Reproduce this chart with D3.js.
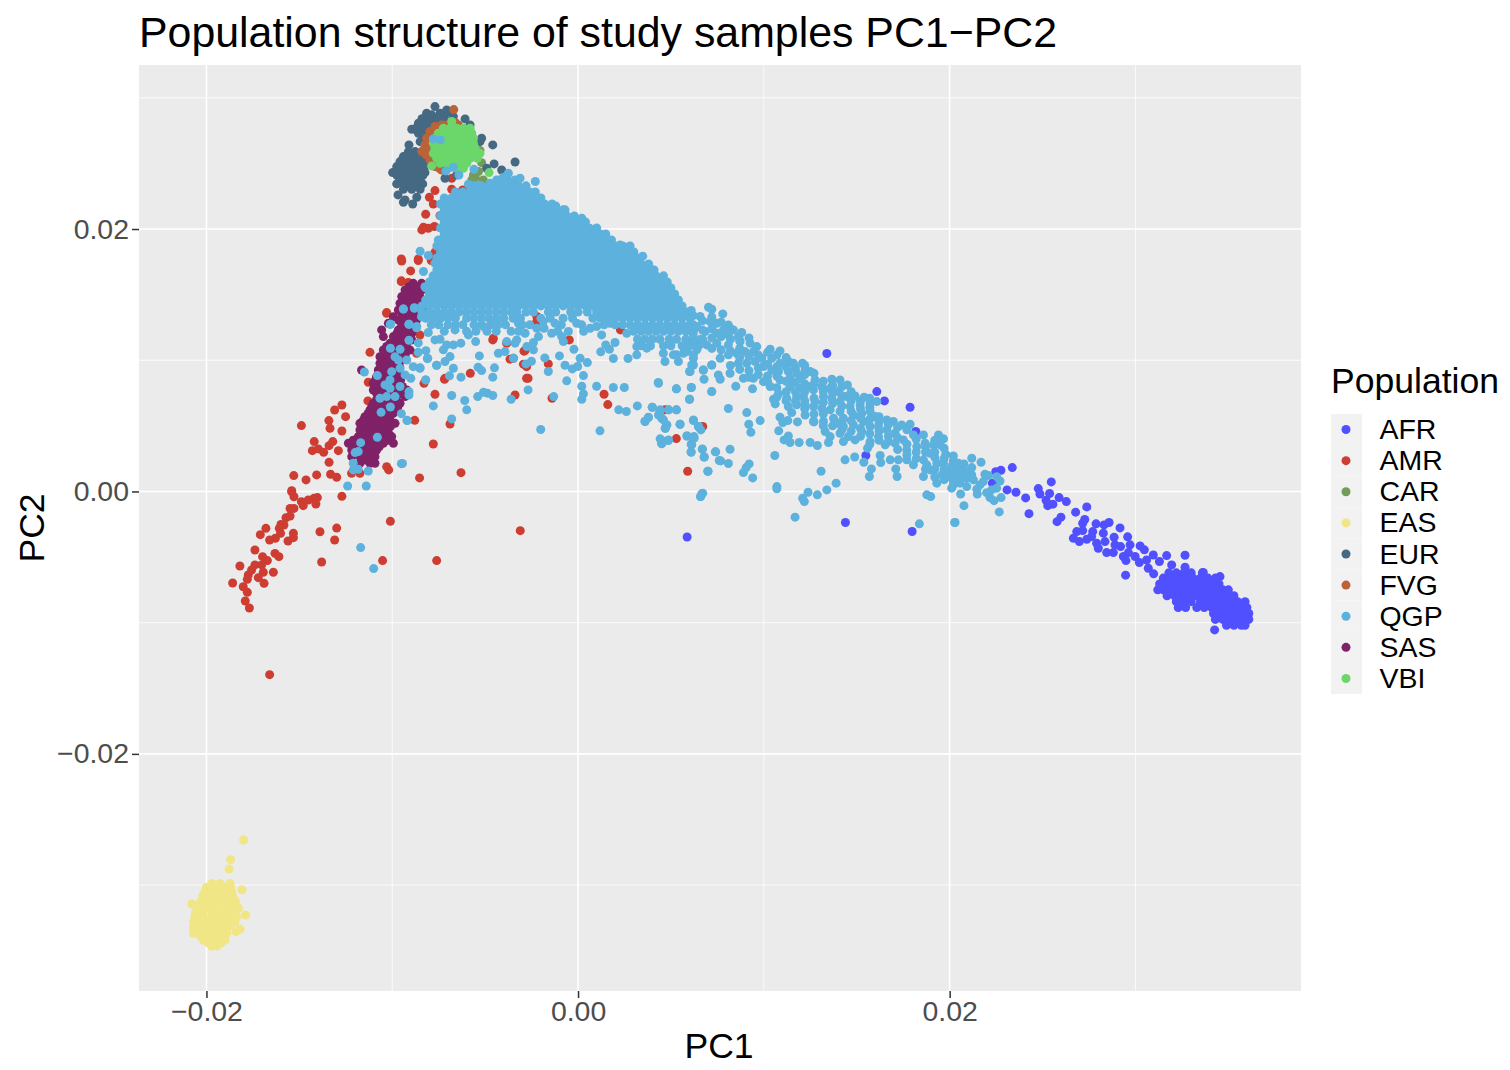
<!DOCTYPE html>
<html lang="en">
	<head>
		<meta charset="utf-8">
		<title>Population structure of study samples PC1-PC2</title>
		<script type="text/javascript" src="https://cdn.jsdelivr.net/npm/d3@7"></script>
		<style type="text/css">
			body { margin: 0; background: white; }
			text { font-family: "Liberation Sans", Arial, sans-serif; }
			.axis path { display: none; }
			.axis line { stroke: #333333; stroke-width: 1.5; }
			.axis text { font-size: 28.44px; fill: #4D4D4D; }
		</style>
	</head>
	<body>
		<script type="text/javascript">

			// all PC values below are in thousandths.
			// inside the solid clouds single samples can't be told apart, so
			// those points are placed by eye to cover the outline of the cloud.
			var populations = ["AFR", "AMR", "CAR", "EAS", "EUR", "FVG", "QGP", "SAS", "VBI"];
			var colours = ["#5050FF", "#CE3D32", "#749B58", "#F0E685", "#466983", "#BA6338", "#5DB1DD", "#802268", "#6BD76B"];
			var drawOrder = ["AFR", "AMR", "CAR", "EAS", "EUR", "FVG", "SAS", "VBI", "QGP"];

			var xTicks = [-20, 0, 20];
			var xTickLabels = ["\u22120.02", "0.00", "0.02"];
			var xMinor = [-10, 10, 30];
			var yTicks = [-20, 0, 20];
			var yTickLabels = ["\u22120.02", "0.00", "0.02"];
			var yMinor = [-30, -10, 10, 30];

			// single points, [PC1, PC2]
			var afrPoints = [[13.39,10.51],[16.08,7.61],[16.49,6.9],[17.87,6.42],[18.18,4.57],[15.49,2.74],[14.39,-2.37],[17.98,-3.05],[5.87,-3.47],
				[23.37,1.82],[22.76,1.62],[22.48,1.51],[22.3,0.63],[23.09,0.12],[23.57,-0.06],[24.09,-0.49],[24.27,-1.69],[24.77,0.22],[24.86,-0.19],[25.47,0.73],[25.38,-0.16],[25.19,-0.67],[25.28,-1.08],[25.56,-0.97],[25.89,-0.47],[26.28,-0.77],[25.99,-1.96],[25.78,-2.3],[26.78,-1.58],[27.38,-1.18],[27.27,-2.14],[27.16,-2.42],[27.88,-2.47],[28.31,-2.55],[28.58,-2.37],[29.17,-2.78],[26.84,-3.06],[27.16,-2.98],[26.66,-3.57],[26.98,-3.82],[27.38,-3.64],[27.7,-3.06],[27.64,-3.44],[28.27,-3.18],[27.91,-3.95],[28.0,-4.33],[28.45,-4.66],[28.36,-3.82],[28.85,-3.49],[28.9,-4.07],[28.81,-4.66],[29.2,-4.2],[29.58,-3.46],[29.71,-4.07],[29.35,-4.96],[29.49,-5.27],[29.62,-4.66],[30.25,-4.15],[30.48,-4.45],[29.98,-4.96],[30.21,-5.42],[30.6,-5.22],[30.96,-4.84],[30.69,-5.85],[30.98,-6.28],[31.29,-5.34],[31.68,-4.89],[31.95,-5.6],[32.67,-4.86],[32.67,-5.77],[29.47,-6.38],[34.26,-10.55],[34.55,-6.49],[33.65,-6.18]];
			var amrPoints = [[-15.41,-0.02],[-15.29,-0.4],[-14.03,-0.47],[-14.21,-0.52],[-14.52,-0.65],[-14.89,-0.78],[-14.79,-1.08],[-14.11,-0.96],[-12.71,-0.37],[-15.5,-1.29],[-15.29,-1.29],[-15.72,-2.0],[-15.5,-1.87],[-15.99,-2.51],[-15.83,-2.56],[-16.08,-2.81],[-16.8,-2.81],[-16.01,-3.19],[-17.1,-3.29],[-15.32,-3.19],[-15.32,-3.52],[-15.61,-3.78],[-16.29,-3.57],[-16.6,-3.7],[-13.89,-3.07],[-12.99,-2.79],[-13.1,-3.7],[-10.1,-2.28],[-3.11,-2.99],[-17.39,-4.46],[-16.31,-4.72],[-16.1,-4.97],[-16.98,-4.97],[-16.72,-5.27],[-18.2,-5.68],[-17.39,-5.6],[-17.03,-5.6],[-13.8,-5.38],[-10.52,-5.27],[-7.61,-5.27],[-16.4,-6.16],[-16.94,-6.16],[-17.57,-5.99],[-17.75,-6.37],[-17.21,-6.57],[-17.8,-6.7],[-16.9,-7.0],[-18.59,-6.98],[-18.02,-7.26],[-17.8,-7.69],[-17.91,-8.35],[-17.69,-8.88],[-16.6,-13.96],
				[-12.71,6.59],[-13.1,6.21],[-12.51,5.7],[-14.89,5.02],[-13.41,5.4],[-13.35,4.81],[-12.71,4.61],[-14.2,3.8],[-13.2,3.8],[-13.4,3.49],[-14.3,3.11],[-13.98,3.24],[-13.69,2.98],[-12.9,3.11],[-13.4,2.22],[-15.3,1.21],[-14.07,1.26],[-14.64,0.88],[-13.32,1.31],[-12.99,1.08],[-15.41,0.06],[-11.2,10.6],[-10.3,13.63],[-9.51,15.99],[-9.13,15.91],[-9.49,17.56],[-8.6,17.6],[-11.29,8.32],[-11.31,6.9],[-8.79,5.42],[-6.89,5.14],[-7.79,3.62],[-10.3,1.89],[-10.19,1.64],[-8.53,1.03],[-6.3,1.43],[-12.19,1.38],[-11.74,1.38],[-7.7,7.4],[-8.29,8.24],[-7.16,8.62],[-5.8,9.0],[-3.48,10.15],[-3.39,7.35],[-2.77,8.62],[-2.77,9.51],[-2.86,10.73],[-4.56,11.67],[-3.84,11.29],[-8.15,13.7],[-7.61,15.23],[-8.69,10.53],[-8.51,11.92],[-9.5,12.56],
				[-2.69,8.63],[-2.94,9.7],[-3.66,10.08],[-2.91,10.69],[-1.6,9.72],[-1.4,7.1],[1.4,7.41],[1.6,6.62],[2.28,12.31],[-0.47,11.55],[-2.22,13.33],[-2.22,12.95],[-4.59,11.55],[5.29,4.03],[5.9,1.54],[6.71,4.95],[4.68,6.22],[-7.19,8.55],
				[-7.7,22.93],[-6.8,23.03],[-6.21,22.98],[-8.0,22.42],[-7.79,21.91],[-7.25,21.91],[-8.2,21.13],[-7.43,21.02],[-8.32,20.14],[-7.73,20.19],[-8.06,20.06],[-8.41,19.93],[-9.51,17.72],[-8.6,17.72],[-9.01,16.81],[-9.51,16.05],[-9.13,15.92],[-10.3,13.58],[-6.8,23.87],[-7.7,18.23],[-7.4,15.5],[-7.9,17.6],[-6.4,17.2],[-6.9,15.3]];
			var carPoints = [[-5.63,24.12],[-5.36,24.38],[-5.1,23.74],[-5.45,23.74],[-5.72,23.74],[-5.36,23.36],[-5.19,25.06],[-5.28,25.98],[-5.54,24.38]];
			var easPoints = [[-18.0,-26.56],[-18.7,-28.06],[-18.78,-28.77],[-18.09,-30.35],[-20.79,-31.44],[-17.89,-32.28],[-18.19,-33.35],[-18.41,-33.55]];
			var eurPoints = [[-7.7,29.33],[-8.15,28.82],[-7.88,28.7],[-7.07,29.08],[-7.43,28.82],[-6.71,28.57],[-8.59,28.06],[-8.24,28.19],[-8.95,27.6],[-8.59,27.3],[-8.32,27.68],[-8.5,26.66],[-9.1,26.41],[-6.08,28.39],[-5.81,27.93],[-5.19,26.92],[-5.28,26.66],[-4.59,26.41],[-3.39,25.11],[-4.11,24.5],[-4.52,24.96],[-4.92,24.63],[-7.16,23.87],[-6.53,24.12],
				[-9.69,22.6],[-9.31,22.22],[-9.4,22.04],[-8.9,21.91],[-8.68,22.42],
				[-8.4,28.4],[-8.0,28.3],[-7.6,28.4],[-7.2,28.5],[-6.9,28.9],[-8.7,27.7],[-8.4,27.2],[-8.3,26.9],[-8.2,27.9],[-7.9,28.0]];
			var fvgPoints = [[-6.69,29.1],[-7.97,27.43],[-7.7,27.81],[-7.34,27.93],[-6.89,28.06],[-6.44,27.93],[-8.15,26.92],[-8.24,26.41],[-8.41,25.9],[-8.18,25.65],[-8.06,26.03],[-7.97,25.27],[-7.7,24.76],[-7.34,24.5],[-7.79,26.79],
				[-8.0,26.6],[-8.05,26.3],[-8.0,25.7],[-7.85,25.0],[-7.5,27.6],[-7.15,27.9],[-6.6,28.1],[-7.85,27.1],[-7.45,24.6]];
			var qgpPoints = [[-11.7,-4.28],[-11.0,-5.88],
				// lower left, over the SAS band
				[-9.4,13.9],[-8.81,14.0],[-10.1,12.74],[-9.1,12.74],[-8.42,13.32],[-8.69,12.48],[-9.1,11.52],[-8.6,11.32],[-10.1,10.91],[-9.58,10.83],[-8.6,10.6],[-8.19,10.73],[-8.11,10.12],[-11.5,9.1],[-10.8,8.83],[-9.85,10.27],[-9.67,10.02],[-9.22,10.02],[-8.87,9.51],[-8.51,9.39],[-10.03,9.13],[-9.58,9.38],[-9.31,8.88],[-9.0,8.62],[-10.12,8.5],[-10.39,8.12],[-9.58,8.0],[-10.12,7.86],[-9.1,7.61],[-9.1,7.35],[-10.66,7.1],[-10.3,7.23],[-9.85,7.23],[-10.1,6.44],[-10.6,6.03],[-9.51,5.93],[-9.21,5.42],[-8.2,8.5],[-7.61,9.61],[-10.8,4.13],[-11.7,3.72],[-11.83,3.04],[-12.0,2.96],[-12.1,2.15],[-12.1,1.64],[-11.83,1.69],[-11.29,1.56],[-9.51,2.12],[-12.4,0.42],[-11.4,0.42],
				// below the main cloud
				[-5.31,10.33],[-6.71,9.39],[-7.61,9.62],[-8.09,10.15],[-8.5,9.42],[-6.92,8.81],[-6.3,8.71],[-5.38,9.47],[-5.19,9.21],[-4.5,9.42],[-4.59,8.71],[-8.2,8.5],[-6.8,7.31],[-7.79,6.52],[-6.1,6.93],[-5.99,6.22],[-6.8,5.53],[-5.4,7.23],[-5.09,7.56],[-4.88,7.49],[-4.59,7.31],[-3.6,7.03],[-2.69,7.74],[-1.31,7.23],[-2.01,4.72],[1.18,4.62],[-9.45,2.13],[-9.19,5.4],[-3.48,10.15],[-2.8,9.72],[-2.51,9.92],[-1.79,10.18],[-1.6,9.14],[-1.0,10.33],[-0.7,9.62],[-0.31,9.34],[-0.02,9.52],[-0.61,8.43],[0.29,8.83],[0.2,8.02],[0.29,7.44],[0.2,7.03],[0.11,10.15],[0.5,9.82],[-0.22,10.84],[1.0,8.02],[1.9,7.92],[2.49,7.92],[1.9,10.13],[2.69,10.13],[1.22,10.64],[1.69,10.84],[1.49,11.17],[1.99,11.35],[1.27,11.93],[2.19,6.22],[2.6,6.09],[3.19,6.52],[4.0,6.42],[3.79,5.66],[3.6,5.35],[4.32,8.3],[5.29,7.82],[6.1,7.92],[6.0,7.03],[7.19,7.61],[4.41,6.09],[4.88,6.22],[5.29,6.22],[4.5,5.58],[4.77,5.07],[4.7,4.82],[5.49,5.12],[6.21,5.45],[6.48,4.95],[4.5,3.88],[4.5,3.63],[4.86,3.88],[5.88,4.23],[6.24,4.18],[6.12,3.55],[6.08,3.02],[6.69,3.24],[6.78,2.63],[7.39,3.02],[7.6,2.36],[6.98,1.54],[6.6,-0.39],[6.71,-0.13],[6.0,9.14],[6.21,9.64],[6.78,8.55],[6.74,9.26],[7.19,9.64],[7.55,8.88],
				// scalloped lower edge of the main cloud
				[-8.06,12.11],[-7.7,11.55],[-7.43,11.6],[-7.07,11.17],[-7.25,10.79],[-6.89,10.28],[-7.16,9.9],[-6.71,11.17],[-6.31,11.3],[-6.62,12.31],[-5.51,11.42],[-5.9,11.93],[-5.09,12.57],[-4.29,10.53],[-3.93,10.66],[-3.84,11.42],[-3.3,11.55],[-3.39,11.3],[-2.76,11.04],[-2.4,10.79],[-2.4,11.35],[-2.13,11.8],[-2.85,12.06],[-3.21,12.82],[-2.22,12.44],[-1.83,12.44],[-1.87,12.95],[-1.24,12.82],[-1.42,12.06],[-0.88,11.8],[-0.79,11.42],[-0.52,12.19],[-0.07,12.82],[0.65,12.44],[1.0,12.57],[1.72,12.82],[2.62,12.06],[3.16,11.04],[3.16,10.41],[3.7,10.92],[4.59,10.53],[4.68,9.9],[5.13,10.41],[5.4,9.9],[5.67,10.53],[6.21,10.41],
				// band running down to the AFR cluster
				[7.02,14.04],[7.2,13.89],[6.09,13.79],[6.57,13.33],[6.03,13.2],[7.79,13.53],[7.11,12.95],[7.47,12.82],[8.09,12.69],[7.83,12.31],[8.36,12.31],[8.81,12.11],[6.39,12.57],[6.84,12.19],[7.47,12.06],[8.09,11.93],[8.63,11.8],[9.26,11.3],[9.62,11.04],[8.72,11.42],[8.09,11.17],[7.47,11.3],[6.93,11.17],[6.39,10.79],[5.85,10.66],[5.31,10.41],[6.21,10.15],[6.12,9.64],[6.03,9.14],[6.75,9.26],[7.2,9.64],[7.65,10.15],[8.09,10.41],[8.54,10.53],[8.99,10.66],[9.44,10.66],[9.89,10.15],[10.34,10.84],[10.87,10.71],[10.43,10.15],[10.87,9.77],[11.32,9.9],[11.59,9.77],[12.08,9.77],[12.49,9.14],[12.22,9.26],[11.77,9.01],[11.32,9.14],[10.79,9.14],[10.43,9.26],[9.98,9.52],[9.53,9.9],[9.08,9.77],[8.63,9.77],[8.18,9.01],[7.65,8.55],[8.9,8.63],[9.44,8.63],[9.98,8.37],[10.34,8.0],[10.87,8.5],[11.41,8.63],[11.95,8.63],[12.76,8.5],[12.49,8.0],[11.95,7.87],[11.41,8.0],[13.66,8.55],[14.1,8.5],[14.5,8.12],[14.01,7.61],[13.57,7.87],[13.12,8.0],[12.67,7.74],[12.13,7.23],[11.77,7.23],[11.23,7.1],[10.79,7.44],[10.52,7.03],[10.61,6.67],[11.32,6.47],[11.77,6.6],[12.22,6.6],[12.76,6.85],[13.21,7.23],[13.66,7.1],[14.1,6.85],[14.46,7.23],[14.91,7.28],[15.4,7.18],[16.08,6.85],[15.72,6.72],[15.18,6.6],[14.64,6.47],[14.1,6.09],[13.57,6.22],[13.12,6.34],[12.67,6.47],[12.22,5.83],[11.5,6.01],[12.67,5.33],[13.21,5.33],[13.75,5.58],[14.28,5.58],[14.82,5.83],[15.27,5.96],[15.72,6.09],[15.99,5.71],[15.36,5.33],[14.82,5.07],[14.28,4.95],[13.92,5.2],[13.3,4.56],[13.57,4.18],[14.1,4.44],[14.55,4.18],[14.91,3.93],[14.28,3.8],[15.27,4.56],[15.72,4.95],[16.17,4.95],[16.62,5.45],[16.97,5.33],[17.42,5.07],[17.87,5.12],[16.62,4.69],[17.06,4.44],[16.17,4.18],[15.72,3.8],[16.53,3.55],[17.06,3.68],[17.51,3.93],[18.05,4.31],[18.59,4.31],[19.4,4.31],[19.67,4.01],[19.13,3.55],[19.49,3.55],[18.68,3.68],[18.23,3.42],[17.69,3.17],[17.24,2.41],[17.69,2.41],[18.05,2.03],[18.59,2.41],[18.95,2.91],[19.79,2.84],[19.31,2.15],[18.95,1.64],[18.59,1.14],[19.31,0.63],[20.11,0.25],[20.38,0.88],[20.02,1.64],[19.67,2.15],[20.2,2.28],[20.56,1.9],[20.56,0.63],[19.93,1.14],[19.58,1.26],[18.77,2.03],
				// scattered below the band
				[4.33,8.25],[5.3,7.82],[6.09,7.92],[7.2,7.61],[6.0,7.03],[8.49,8.02],[9.39,7.82],[8.09,6.32],[9.08,6.01],[9.8,5.4],[9.19,5.12],[9.3,4.51],[10.87,5.66],[11.02,5.25],[11.29,5.4],[11.81,5.3],[10.8,4.62],[11.32,4.23],[11.09,3.93],[11.41,3.73],[11.9,3.73],[12.49,3.73],[12.88,3.5],[13.48,3.73],[12.7,5.3],[15.58,3.3],[14.89,2.63],[14.37,2.41],[15.38,2.23],[16.29,2.2],[16.8,2.41],[16.26,2.74],[15.79,1.72],[15.68,1.14],[17.1,1.72],[17.17,1.14],[10.59,2.74],[13.08,1.54],[13.89,0.63],[13.39,0.12],[12.88,-0.26],[12.38,-0.06],[12.09,-0.52],[12.18,-0.77],[11.68,-1.96],[10.7,0.37],[10.7,0.2],[9.4,1.03],[9.21,2.1],[9.05,1.82],[8.9,1.44],[8.09,2.13],[8.18,3.22],[7.68,2.33],[7.41,3.02],[6.8,2.63],[6.69,3.22],[6.09,3.6],[6.09,2.99],[7.0,1.54],[6.66,-0.18],[6.59,-0.39],[18.77,-0.26],[18.98,-0.39],[18.37,-2.47],[20.29,-2.37],[3.99,6.42],[4.42,6.22],[4.87,6.22],[5.3,6.22],[5.49,5.12],[3.61,5.33],[3.79,5.63],[4.33,5.83],[4.6,5.45],[4.78,5.07],[4.69,4.82],[6.21,5.4],[6.48,4.95],[6.61,4.69],[5.85,4.23],[6.25,4.06],[4.42,4.01],[4.87,3.93],[4.51,3.68],
				// tail where QGP meets AFR
				[21.19,2.53],[21.69,2.23],[20.2,2.28],[20.47,2.15],[20.77,2.1],[21.19,1.82],[20.2,1.52],[20.56,1.52],[20.92,1.52],[21.19,1.26],[20.2,1.01],[20.56,0.88],[20.92,1.01],[21.28,0.88],[21.9,1.31],[22.08,1.21],[22.53,1.13],[22.71,0.8],[21.81,0.75],[21.63,0.5],[22.53,0.25],[20.2,0.5],[20.92,0.37],[21.46,0.17],[20.59,-0.19],[21.49,-0.19],[22.26,0.12],[21.99,-0.09],[22.17,-0.47],[22.39,-0.7],[22.77,-0.47],[20.77,-1.08],[22.67,-1.56],[20.27,-2.37],[20.38,1.39],[20.74,1.26],[20.11,1.9],
				// around the top of the main cloud
				[-7.79,26.87],[-7.41,26.79],[-7.11,24.43],[-6.71,24.71],[-6.41,24.12],[-5.6,24.55],[-5.9,23.41],[-5.36,23.36],[-3.75,24.25],[-3.12,23.87],[-2.3,23.62],[-4.74,23.49],[-4.38,23.74],[-4.02,23.95],[-7.1,22.22],[1.49,19.63],[3.48,17.93],[4.09,16.88],[-8.5,18.31],[-8.06,17.98],[-7.52,19.17],[-0.7,21.46],[-1.2,21.76],[0.2,20.82],[2.26,18.79],[2.65,18.61],[1.81,18.79],
				[-8.32,16.76],[-7.7,17.39],[-7.43,16.63],[-8.24,15.61],[-7.61,15.87],[-7.97,14.6],[-8.41,13.33],[-8.68,12.57],[-9.1,12.74],[-10.1,12.74],[-9.4,13.91],[-8.81,13.96]];
			var vbiPoints = [[-6.8,28.19],[-7.88,24.81],[-4.79,24.3]];

			// dense clouds, one [PC2, [PC1, ...]] row at a time
			var afrRows = [
				[-6.2, [31.8,32.2,32.6,33.0,33.6]],
				[-6.6, [31.5,31.9,32.3,32.7,33.1,33.5,33.9,34.3]],
				[-7.05, [31.3,31.7,32.1,32.5,32.9,33.3,33.7,34.1,34.5]],
				[-7.5, [31.2,31.5,31.9,32.3,32.7,33.1,33.5,33.9,34.3,34.7,35.0]],
				[-7.95, [31.7,32.1,32.5,32.9,33.3,33.7,34.1,34.5,34.9,35.3]],
				[-8.4, [32.2,32.6,33.0,33.5,33.9,34.3,34.7,35.1,35.5,35.9]],
				[-8.85, [32.3,32.7,33.3,33.7,34.1,34.5,34.9,35.3,35.7,36.0]],
				[-9.3, [34.2,34.6,35.0,35.4,35.8,36.1]],
				[-9.75, [34.3,34.7,35.1,35.5,35.9,36.1]],
				[-10.2, [34.9,35.3,35.7,35.9]]
			];
			var easRows = [
				[-29.87, [-19.72,-19.27,-18.73]],
				[-30.18, [-20.0,-19.5,-19.0,-18.7]],
				[-30.5, [-20.08,-19.63,-19.18,-18.64]],
				[-30.82, [-20.2,-19.8,-19.4,-19.0,-18.6]],
				[-31.14, [-20.26,-19.81,-19.36,-18.91,-18.46]],
				[-31.45, [-20.4,-19.95,-19.6,-19.1,-18.7,-18.4]],
				[-31.77, [-20.44,-19.99,-19.54,-19.09,-18.64,-18.28]],
				[-32.1, [-20.6,-20.2,-19.7,-19.3,-18.9,-18.5]],
				[-32.41, [-20.62,-20.17,-19.72,-19.27,-18.82,-18.37]],
				[-32.79, [-20.7,-20.26,-19.81,-19.36,-18.91,-18.46]],
				[-33.05, [-20.5,-20.0,-19.6,-19.1,-18.7]],
				[-33.3, [-20.7,-20.26,-19.81,-19.36,-18.91]],
				[-33.5, [-20.5,-20.0,-19.5,-19.1]],
				[-33.68, [-20.7,-20.17,-19.72,-19.27,-18.91]],
				[-33.95, [-20.3,-19.9,-19.5,-19.1]],
				[-34.18, [-20.17,-19.81,-19.36,-19.0]],
				[-34.4, [-19.9,-19.55,-19.2]],
				[-34.64, [-19.72,-19.45]]
			];
			var eurRows = [
				[25.9, [-9.13,-8.77,-8.41]],
				[25.7, [-9.0,-8.6,-8.3]],
				[25.52, [-9.4,-9.04,-8.68,-8.32]],
				[25.33, [-9.3,-8.95,-8.6,-8.3]],
				[25.14, [-9.58,-9.22,-8.86,-8.5,-8.18]],
				[24.95, [-9.5,-9.15,-8.8,-8.45]],
				[24.76, [-9.76,-9.4,-9.04,-8.68,-8.32]],
				[24.53, [-9.65,-9.3,-8.95,-8.6,-8.3]],
				[24.3, [-9.98,-9.62,-9.22,-8.86,-8.5,-8.24]],
				[24.1, [-9.75,-9.4,-9.05,-8.7,-8.35]],
				[23.87, [-9.58,-9.22,-8.86,-8.5]],
				[23.65, [-9.6,-9.2,-8.85,-8.5]],
				[23.44, [-9.76,-9.4,-9.04,-8.68,-8.36]],
				[23.25, [-9.25,-8.85,-8.6]],
				[23.03, [-9.4,-8.95,-8.5]]
			];
			var sasRows = [
				[2.15, [-11.74,-11.2,-10.93]],
				[2.4, [-11.5,-11.1]],
				[2.65, [-12.18,-11.74,-11.38,-10.93]],
				[2.9, [-12.0,-11.55,-11.1]],
				[3.16, [-12.18,-11.83,-11.38,-10.84]],
				[3.4, [-12.1,-11.6,-11.2,-10.7]],
				[3.67, [-12.36,-11.92,-11.47,-11.02,-10.48,-9.94]],
				[3.9, [-12.1,-11.6,-11.2,-10.75,-10.25]],
				[4.18, [-11.83,-11.38,-10.93,-10.48,-10.03]],
				[4.45, [-11.6,-11.1,-10.65,-10.2]],
				[4.69, [-11.74,-11.29,-10.84,-10.39]],
				[4.95, [-11.5,-11.05,-10.6,-10.1]],
				[5.19, [-11.74,-11.29,-10.84,-10.39,-9.85]],
				[5.45, [-11.55,-11.1,-10.6,-10.15]],
				[5.7, [-11.47,-11.02,-10.57,-10.12]],
				[5.95, [-11.3,-10.85,-10.4,-9.95]],
				[6.21, [-11.2,-10.75,-10.3,-9.85]],
				[6.45, [-11.1,-10.6,-10.1,-9.7]],
				[6.72, [-11.02,-10.57,-10.12,-9.58]],
				[7.0, [-10.85,-10.35,-9.85]],
				[7.23, [-10.66,-10.21,-9.76,-9.31]],
				[7.5, [-10.85,-10.35,-9.9,-9.45]],
				[7.73, [-11.02,-10.57,-10.12,-9.67,-9.22]],
				[8.0, [-10.85,-10.35,-9.9,-9.45]],
				[8.24, [-11.02,-10.57,-10.12,-9.67]],
				[8.5, [-10.9,-10.45,-10.0,-9.55]],
				[8.75, [-10.84,-10.39,-9.94,-9.49]],
				[9.0, [-10.65,-10.15,-9.7]],
				[9.26, [-11.65,-10.75,-10.3,-9.85]],
				[9.5, [-10.5,-10.05,-9.6]],
				[9.77, [-10.66,-10.21,-9.76]],
				[10.0, [-10.45,-10.0,-9.55]],
				[10.27, [-10.66,-10.21,-9.76,-9.31]],
				[10.5, [-10.3,-9.8,-9.3]],
				[10.78, [-10.48,-10.03,-9.49,-9.05]],
				[11.05, [-10.3,-9.85,-9.35]],
				[11.29, [-10.12,-9.67,-9.22]],
				[11.55, [-9.8,-9.35,-8.95]],
				[11.8, [-10.48,-9.94,-9.49,-9.05]],
				[12.05, [-9.75,-9.35,-8.95]],
				[12.31, [-10.57,-9.67,-9.22,-8.87]],
				[12.55, [-9.5,-9.1]],
				[12.81, [-10.21,-9.4,-9.05]],
				[13.05, [-9.65,-9.15,-8.7]],
				[13.32, [-9.94,-9.4,-8.87,-8.51]],
				[13.6, [-9.5,-9.0,-8.6]],
				[13.83, [-9.67,-9.22,-8.78,-8.42]],
				[14.1, [-9.3,-8.8]],
				[14.34, [-9.58,-9.05,-8.51]],
				[14.6, [-9.3,-8.8]],
				[14.85, [-9.49,-9.05,-8.51]],
				[15.1, [-9.2,-8.7]],
				[15.35, [-9.31,-8.87,-8.42]],
				[15.6, [-9.1,-8.65,-8.3]],
				[15.86, [-8.87,-8.42]]
			];
			var vbiRows = [
				[27.68, [-7.25,-6.89,-6.53,-6.17,-5.81]],
				[27.3, [-7.52,-7.16,-6.8,-6.44,-6.08,-5.72]],
				[26.92, [-7.7,-7.34,-6.98,-6.62,-6.26,-5.9,-5.63]],
				[26.54, [-7.79,-7.43,-7.07,-6.71,-6.35,-5.99,-5.63]],
				[26.16, [-7.7,-7.34,-6.98,-6.62,-6.26,-5.9,-5.54]],
				[25.77, [-7.79,-7.43,-7.07,-6.71,-6.35,-5.99,-5.63,-5.28]],
				[25.39, [-7.61,-7.25,-6.89,-6.53,-6.17,-5.81,-5.42]],
				[25.01, [-7.43,-7.07,-6.71,-6.35,-5.99]],
				[24.63, [-6.98,-6.53,-6.17]]
			];
			var qgpRows = [
				[23.74, [-4.2,-3.8,-3.4]],
				[23.29, [-5.6,-5.2,-4.8,-4.4,-4.0,-3.6,-3.2,-2.8]],
				[22.83, [-6.6,-6.2,-5.8,-5.4,-5.0,-4.6,-4.2,-3.8,-3.4,-3.0,-2.6,-2.3]],
				[22.37, [-7.2,-6.8,-6.4,-6.0,-5.6,-5.2,-4.8,-4.4,-4.0,-3.6,-3.2,-2.8,-2.4,-2.0]],
				[21.91, [-7.4,-7.0,-6.6,-6.2,-5.8,-5.4,-5.0,-4.6,-4.2,-3.8,-3.4,-3.0,-2.6,-2.2,-1.8,-1.4]],
				[21.46, [-7.2,-6.8,-6.4,-6.0,-5.6,-5.2,-4.8,-4.4,-4.0,-3.6,-3.2,-2.8,-2.4,-2.0,-1.6,-1.2,-0.8]],
				[21.0, [-7.4,-7.0,-6.6,-6.2,-5.8,-5.4,-5.0,-4.6,-4.2,-3.8,-3.4,-3.0,-2.6,-2.2,-1.8,-1.4,-1.0,-0.6,-0.2]],
				[20.54, [-7.2,-6.8,-6.4,-6.0,-5.6,-5.2,-4.8,-4.4,-4.0,-3.6,-3.2,-2.8,-2.4,-2.0,-1.6,-1.2,-0.8,-0.4,0,0.4]],
				[20.08, [-7.4,-7.0,-6.6,-6.2,-5.8,-5.4,-5.0,-4.6,-4.2,-3.8,-3.4,-3.0,-2.6,-2.2,-1.8,-1.4,-1.0,-0.6,-0.2,0.2,0.6,1.0]],
				[19.63, [-7.2,-6.8,-6.4,-6.0,-5.6,-5.2,-4.8,-4.4,-4.0,-3.6,-3.2,-2.8,-2.4,-2.0,-1.6,-1.2,-0.8,-0.4,0,0.4,0.8,1.2]],
				[19.17, [-7.4,-7.0,-6.6,-6.2,-5.8,-5.4,-5.0,-4.6,-4.2,-3.8,-3.4,-3.0,-2.6,-2.2,-1.8,-1.4,-1.0,-0.6,-0.2,0.2,0.6,1.0,1.4,1.8]],
				[18.71, [-7.6,-7.2,-6.8,-6.4,-6.0,-5.6,-5.2,-4.8,-4.4,-4.0,-3.6,-3.2,-2.8,-2.4,-2.0,-1.6,-1.2,-0.8,-0.4,0,0.4,0.8,1.2,1.6,2.0,2.4,2.8]],
				[18.25, [-7.4,-7.0,-6.6,-6.2,-5.8,-5.4,-5.0,-4.6,-4.2,-3.8,-3.4,-3.0,-2.6,-2.2,-1.8,-1.4,-1.0,-0.6,-0.2,0.2,0.6,1.0,1.4,1.8,2.2,2.6,3.0]],
				[17.8, [-7.6,-7.2,-6.8,-6.4,-6.0,-5.6,-5.2,-4.8,-4.4,-4.0,-3.6,-3.2,-2.8,-2.4,-2.0,-1.6,-1.2,-0.8,-0.4,0,0.4,0.8,1.2,1.6,2.0,2.4,2.8,3.2]],
				[17.34, [-7.4,-7.0,-6.6,-6.2,-5.8,-5.4,-5.0,-4.6,-4.2,-3.8,-3.4,-3.0,-2.6,-2.2,-1.8,-1.4,-1.0,-0.6,-0.2,0.2,0.6,1.0,1.4,1.8,2.2,2.6,3.0,3.4,3.8]],
				[16.88, [-7.6,-7.2,-6.8,-6.4,-6.0,-5.6,-5.2,-4.8,-4.4,-4.0,-3.6,-3.2,-2.8,-2.4,-2.0,-1.6,-1.2,-0.8,-0.4,0,0.4,0.8,1.2,1.6,2.0,2.4,2.8,3.2,3.6,4.0]],
				[16.43, [-7.8,-7.4,-7.0,-6.6,-6.2,-5.8,-5.4,-5.0,-4.6,-4.2,-3.8,-3.4,-3.0,-2.6,-2.2,-1.8,-1.4,-1.0,-0.6,-0.2,0.2,0.6,1.0,1.4,1.8,2.2,2.6,3.0,3.4,3.8,4.2,4.6]],
				[15.97, [-8.0,-7.6,-7.2,-6.8,-6.4,-6.0,-5.6,-5.2,-4.8,-4.4,-4.0,-3.6,-3.2,-2.8,-2.4,-2.0,-1.6,-1.2,-0.8,-0.4,0,0.4,0.8,1.2,1.6,2.0,2.4,2.8,3.2,3.6,4.0,4.4,4.8]],
				[15.51, [-8.2,-7.8,-7.4,-7.0,-6.6,-6.2,-5.8,-5.4,-5.0,-4.6,-4.2,-3.8,-3.4,-3.0,-2.6,-2.2,-1.8,-1.4,-1.0,-0.6,-0.2,0.2,0.6,1.0,1.4,1.8,2.2,2.6,3.0,3.4,3.8,4.2,4.6,5.0]],
				[15.05, [-8.0,-7.6,-7.2,-6.8,-6.4,-6.0,-5.6,-5.2,-4.8,-4.4,-4.0,-3.6,-3.2,-2.8,-2.4,-2.0,-1.6,-1.2,-0.8,-0.4,0,0.4,0.8,1.2,1.6,2.0,2.4,2.8,3.2,3.6,4.0,4.4,4.8,5.2]],
				[14.6, [-8.2,-7.8,-7.4,-7.0,-6.6,-6.2,-5.8,-5.4,-5.0,-4.6,-4.2,-3.8,-3.4,-3.0,-2.6,-2.2,-1.8,-1.4,-1.0,-0.6,-0.2,0.2,0.6,1.0,1.4,1.8,2.2,2.6,3.0,3.4,3.8,4.2,4.6,5.0,5.4]],
				[14.14, [-8.4,-8.0,-7.6,-7.2,-6.8,-6.4,-6.0,-5.6,-5.2,-4.8,-4.4,-4.0,-3.6,-3.2,-2.8,-2.4,-2.0,-1.6,-1.2,-0.8,-0.4,0,0.4,0.8,1.2,1.6,2.0,2.4,2.8,3.2,3.6,4.0,4.4,4.8,5.2,5.6]],
				[13.68, [-8.4,-8.0,-7.6,-7.2,-6.8,-6.4,-6.0,-5.6,-5.2,-4.8,-4.4,-4.0,-3.6,-3.3,-2.8,-2.4,-1.6,-1.2,-0.4,0,0.5,1.0,1.4,1.8,2.2,2.6,3.0,3.4,3.8,4.2,4.6,5.0,5.4,5.8]],
				[13.2, [-8.2,-7.8,-7.4,-7.0,-6.6,-6.0,-5.6,-5.2,-4.8,-4.4,-4.0,-3.5,-3.1,-2.0,-1.5,-0.8,-0.3,0.8,1.2,1.6,2.0,2.4,2.8,3.2,3.6,4.0,4.4,4.8,5.2,5.6]],
				[12.7, [-7.9,-7.5,-7.0,-6.6,-6.2,-5.6,-5.2,-4.7,-4.3,-3.9,-3.0,-2.6,-0.9,0.2,1.4,2.0,2.4,2.8,3.2,3.6,4.0,4.4,4.8,5.2,5.6,6.0]],
				[12.2, [-7.2,-6.0,-5.5,-4.9,-4.4,-3.6,-3.2,-1.1,0.3,3.0,3.4,3.8,4.2,4.6,5.0,5.4,5.8,6.2]],
				[11.6, [3.2,3.6,4.0,4.4,4.9,5.3,5.8,6.2,6.6]],
				[11.1, [3.4,3.9,4.6,5.0,5.6,6.0,6.5]]
			];
			// extra fill for the band, one [PC1, [PC2, ...]] column at a time
			var qgpBandColumns = [
				[6.2, [13.4,12.7,12.0,11.3]],
				[6.7, [13.0,12.3,11.6]],
				[7.2, [13.3,12.4,11.7,10.9]],
				[7.7, [12.9,11.8,10.8]],
				[8.2, [12.4,11.6,10.7,9.6]],
				[8.7, [11.5,10.9,10.2,9.3]],
				[9.2, [11.7,10.3,9.2,8.7]],
				[9.7, [10.4,9.4,8.9]],
				[10.2, [10.6,9.7,8.8,8.4]],
				[10.7, [10.4,9.5,8.8,7.9,7.2]],
				[11.2, [10.2,9.5,8.4,7.6,6.9]],
				[11.7, [9.4,8.3,7.6,6.9]],
				[12.2, [9.6,8.9,8.2,7.6,6.9,6.3]],
				[12.7, [9.0,8.2,7.1,5.9]],
				[13.2, [8.4,7.6,6.8,5.9,5.0]],
				[13.7, [8.1,7.5,6.7,5.0]],
				[14.2, [8.0,7.3,6.5,5.3,4.7]],
				[14.7, [7.6,6.9,6.1,5.4,4.6]],
				[15.2, [6.9,6.3,5.6,4.8,4.2]],
				[15.7, [7.1,6.4,5.5,4.4,3.6]],
				[16.2, [5.7,5.3,4.6,3.9]],
				[16.7, [5.1,4.2,3.8]],
				[17.2, [4.9,4.1,3.2]],
				[17.7, [4.7,3.6,2.8]],
				[18.2, [4.0,3.0,2.5]],
				[18.7, [3.4,3.0,1.7]],
				[19.2, [3.9,3.0,2.6,1.7,1.1]],
				[19.7, [3.3,2.5,1.7,0.9]],
				[20.2, [2.7,1.9,1.2,0.8]]
			];

			// rows written out as [PC1, PC2] points
			var fromRows = function(rows){
				var points = [];
				rows.forEach(function(row){
					row[1].forEach(function(x){
						points.push([x, row[0]]);
					});
				});
				return points;
			};

			var fromColumns = function(columns){
				var points = [];
				columns.forEach(function(column){
					column[1].forEach(function(y){
						points.push([column[0], y]);
					});
				});
				return points;
			};

			var seriesPoints = {
				AFR: afrPoints.concat(fromRows(afrRows)),
				AMR: amrPoints,
				CAR: carPoints,
				EAS: easPoints.concat(fromRows(easRows)),
				EUR: eurPoints.concat(fromRows(eurRows)),
				FVG: fvgPoints,
				QGP: fromRows(qgpRows).concat(qgpPoints, fromColumns(qgpBandColumns)),
				SAS: fromRows(sasRows),
				VBI: vbiPoints.concat(fromRows(vbiRows))
			};

			//Width and height
			var w = 1510;
			var h = 1070;
			var panel = {left: 139, right: 1301, top: 65, bottom: 991};
			var radius = 4.5;

			var xScale = d3.scaleLinear()
				.domain([-23.63, 38.91])
				.range([panel.left, panel.right]);

			var yScale = d3.scaleLinear()
				.domain([-38.07, 32.5])
				.range([panel.bottom, panel.top]);

			var colour = d3.scaleOrdinal()
				.domain(populations)
				.range(colours);

			var svg = d3.select("body")
				.append("svg")
				.attr("width", w)
				.attr("height", h);

			// panel and grid
			svg.append("rect")
				.attr("x", panel.left)
				.attr("y", panel.top)
				.attr("width", panel.right - panel.left)
				.attr("height", panel.bottom - panel.top)
				.attr("fill", "#EBEBEB");

			var grid = svg.append("g").attr("stroke", "white");

			grid.selectAll(".vminor").data(xMinor).enter().append("line")
				.attr("x1", xScale).attr("x2", xScale)
				.attr("y1", panel.top).attr("y2", panel.bottom)
				.attr("stroke-width", 0.8);
			grid.selectAll(".hminor").data(yMinor).enter().append("line")
				.attr("y1", yScale).attr("y2", yScale)
				.attr("x1", panel.left).attr("x2", panel.right)
				.attr("stroke-width", 0.8);
			grid.selectAll(".vmajor").data(xTicks).enter().append("line")
				.attr("x1", xScale).attr("x2", xScale)
				.attr("y1", panel.top).attr("y2", panel.bottom)
				.attr("stroke-width", 1.6);
			grid.selectAll(".hmajor").data(yTicks).enter().append("line")
				.attr("y1", yScale).attr("y2", yScale)
				.attr("x1", panel.left).attr("x2", panel.right)
				.attr("stroke-width", 1.6);

			// points, QGP last so it sits on top
			drawOrder.forEach(function(name){
				svg.append("g")
					.attr("class", "points")
					.selectAll("circle")
					.data(seriesPoints[name])
					.enter()
					.append("circle")
					.attr("cx", function(d){ return xScale(d[0]); })
					.attr("cy", function(d){ return yScale(d[1]); })
					.attr("r", radius)
					.attr("fill", colour(name));
			});

			// axes
			var xAxis = d3.axisBottom()
				.scale(xScale)
				.tickValues(xTicks)
				.tickSize(7)
				.tickPadding(3)
				.tickFormat(function(d, i){ return xTickLabels[i]; });

			var yAxis = d3.axisLeft()
				.scale(yScale)
				.tickValues(yTicks)
				.tickSize(7)
				.tickPadding(3)
				.tickFormat(function(d, i){ return yTickLabels[i]; });

			svg.append("g")
				.attr("class", "axis")
				.attr("transform", "translate(0," + panel.bottom + ")")
				.call(xAxis);

			svg.append("g")
				.attr("class", "axis")
				.attr("transform", "translate(" + panel.left + ",0)")
				.call(yAxis);

			// titles
			svg.append("text")
				.attr("x", 139)
				.attr("y", 47)
				.attr("font-size", 42.85)
				.text("Population structure of study samples PC1\u2212PC2");

			svg.append("text")
				.attr("x", (panel.left + panel.right) / 2 - 1)
				.attr("y", 1058)
				.attr("text-anchor", "middle")
				.attr("font-size", 35.56)
				.text("PC1");

			svg.append("text")
				.attr("transform", "translate(44," + (panel.top + panel.bottom) / 2 + ") rotate(-90)")
				.attr("text-anchor", "middle")
				.attr("font-size", 35.56)
				.text("PC2");

			// legend
			var legendY = d3.scaleBand()
				.domain(populations)
				.range([414, 694]);

			svg.append("text")
				.attr("x", 1331)
				.attr("y", 393)
				.attr("font-size", 35.56)
				.text("Population");

			var legend = svg.append("g").attr("class", "legend");

			legend.selectAll("rect")
				.data(populations)
				.enter()
				.append("rect")
				.attr("x", 1331)
				.attr("y", function(d){ return legendY(d); })
				.attr("width", 31)
				.attr("height", legendY.bandwidth())
				.attr("fill", "#F2F2F2");

			legend.selectAll("circle")
				.data(populations)
				.enter()
				.append("circle")
				.attr("cx", 1346)
				.attr("cy", function(d){ return legendY(d) + legendY.bandwidth() / 2; })
				.attr("r", radius)
				.attr("fill", function(d){ return colour(d); });

			legend.selectAll("text")
				.data(populations)
				.enter()
				.append("text")
				.attr("x", 1379.5)
				.attr("y", function(d){ return legendY(d) + legendY.bandwidth() / 2 + 9.5; })
				.attr("font-size", 28.44)
				.text(function(d){ return d; });

		</script>
	</body>
</html>
